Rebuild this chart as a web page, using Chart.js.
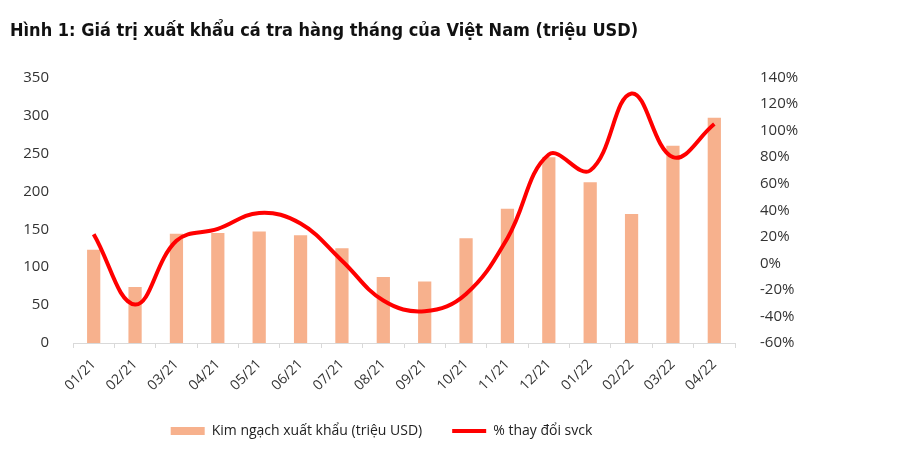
<!DOCTYPE html>
<html>
<head>
<meta charset="utf-8">
<script src="https://cdn.jsdelivr.net/npm/chart.js@4"></script>
<style>
  html, body { margin: 0; padding: 0; background: #fff; }
  #wrap { position: relative; width: 897px; height: 462px; }
</style>
</head>
<body>
<div id="wrap"><canvas id="myChart"></canvas></div>
<script>
const months = ["01/21", "02/21", "03/21", "04/21", "05/21", "06/21", "07/21", "08/21",
  "09/21", "10/21", "11/21", "12/21", "01/22", "02/22", "03/22", "04/22"];
// kim ngach xuat khau, trieu USD
const exportValue = [123, 74, 144, 145, 147, 142, 125, 87, 81, 138, 177, 245, 212, 170, 260, 297];
// % thay doi so voi cung ky
const yoyChange = [22, -31, 17, 26, 38, 30, 2, -28, -36, -23, 19, 82, 70, 128, 80, 105];

const tickColor = "#333";
const tickFont = { family: "'Open Sans', 'Noto Sans', sans-serif", size: 15 };

// legend in the original sits left of centre
const legendShift = {
  id: "legendShift",
  afterLayout(chart) {
    chart.legend.left -= 72;
    chart.legend.right -= 72;
  },
};

const ctx = document.getElementById("myChart");
const myChart = new Chart(ctx, {
  plugins: [legendShift],
  data: {
    labels: months,
    datasets: [
      {
        type: "line",
        label: "% thay đổi svck",
        data: yoyChange,
        yAxisID: "y1",
        borderColor: "#ff0000",
        backgroundColor: "#ff0000",
        borderWidth: 4,
        tension: 0.4,
        pointRadius: 0,
        fill: false,
      },
      {
        type: "bar",
        label: "Kim ngạch xuất khẩu (triệu USD)",
        data: exportValue,
        yAxisID: "y",
        backgroundColor: "#F7B18D",
        borderWidth: 0,
        categoryPercentage: 1,
        barPercentage: 0.32,
      },
    ],
  },
  options: {
    responsive: true,
    maintainAspectRatio: false,
    animation: false,
    layout: { padding: { left: 10, right: 0, top: 0, bottom: 14 } },
    plugins: {
      tooltip: { enabled: false },
      title: {
        display: true,
        text: "Hình 1: Giá trị xuất khẩu cá tra hàng tháng của Việt Nam (triệu USD)",
        align: "start",
        color: "#111",
        font: { family: "'DejaVu Sans Condensed', sans-serif", size: 18, weight: "bold" },
        padding: { top: 21, bottom: 35 },
      },
      legend: {
        position: "bottom",
        labels: {
          color: "#222",
          font: { family: "'Open Sans', 'Noto Sans', sans-serif", size: 14 },
          usePointStyle: true,
          pointStyleWidth: 34,
          boxHeight: 8,
          padding: 30,
          generateLabels: (chart) => {
            const items = Chart.defaults.plugins.legend.labels.generateLabels(chart);
            items.forEach((it) => {
              if (it.datasetIndex === 0) { it.pointStyle = "line"; it.lineWidth = 4; }
              else { it.pointStyle = "rect"; it.lineWidth = 0; }
            });
            return items.sort((a, b) => b.datasetIndex - a.datasetIndex);
          },
        },
      },
    },
    scales: {
      x: {
        offset: true,
        grid: { display: true, drawOnChartArea: false, drawTicks: true, tickLength: 5, color: "#d9d9d9", offset: true },
        border: { display: true, color: "#d9d9d9" },
        ticks: { color: tickColor, font: { family: "'Open Sans', 'Noto Sans', sans-serif", size: 14 }, minRotation: 45, maxRotation: 45, padding: 8 },
        afterFit: (axis) => { axis.height = 51; },
      },
      y: {
        position: "left",
        min: 0,
        max: 350,
        grid: { display: false },
        border: { display: false },
        ticks: { stepSize: 50, color: tickColor, font: tickFont, padding: 16 },
        afterFit: (axis) => { axis.width = 63; },
      },
      y1: {
        position: "right",
        min: -60,
        max: 140,
        grid: { display: false },
        border: { display: false },
        ticks: { stepSize: 20, color: tickColor, font: tickFont, padding: 17, callback: (v) => v + "%" },
        afterFit: (axis) => { axis.width = 162; },
      },
    },
  },
});
</script>
</body>
</html>
